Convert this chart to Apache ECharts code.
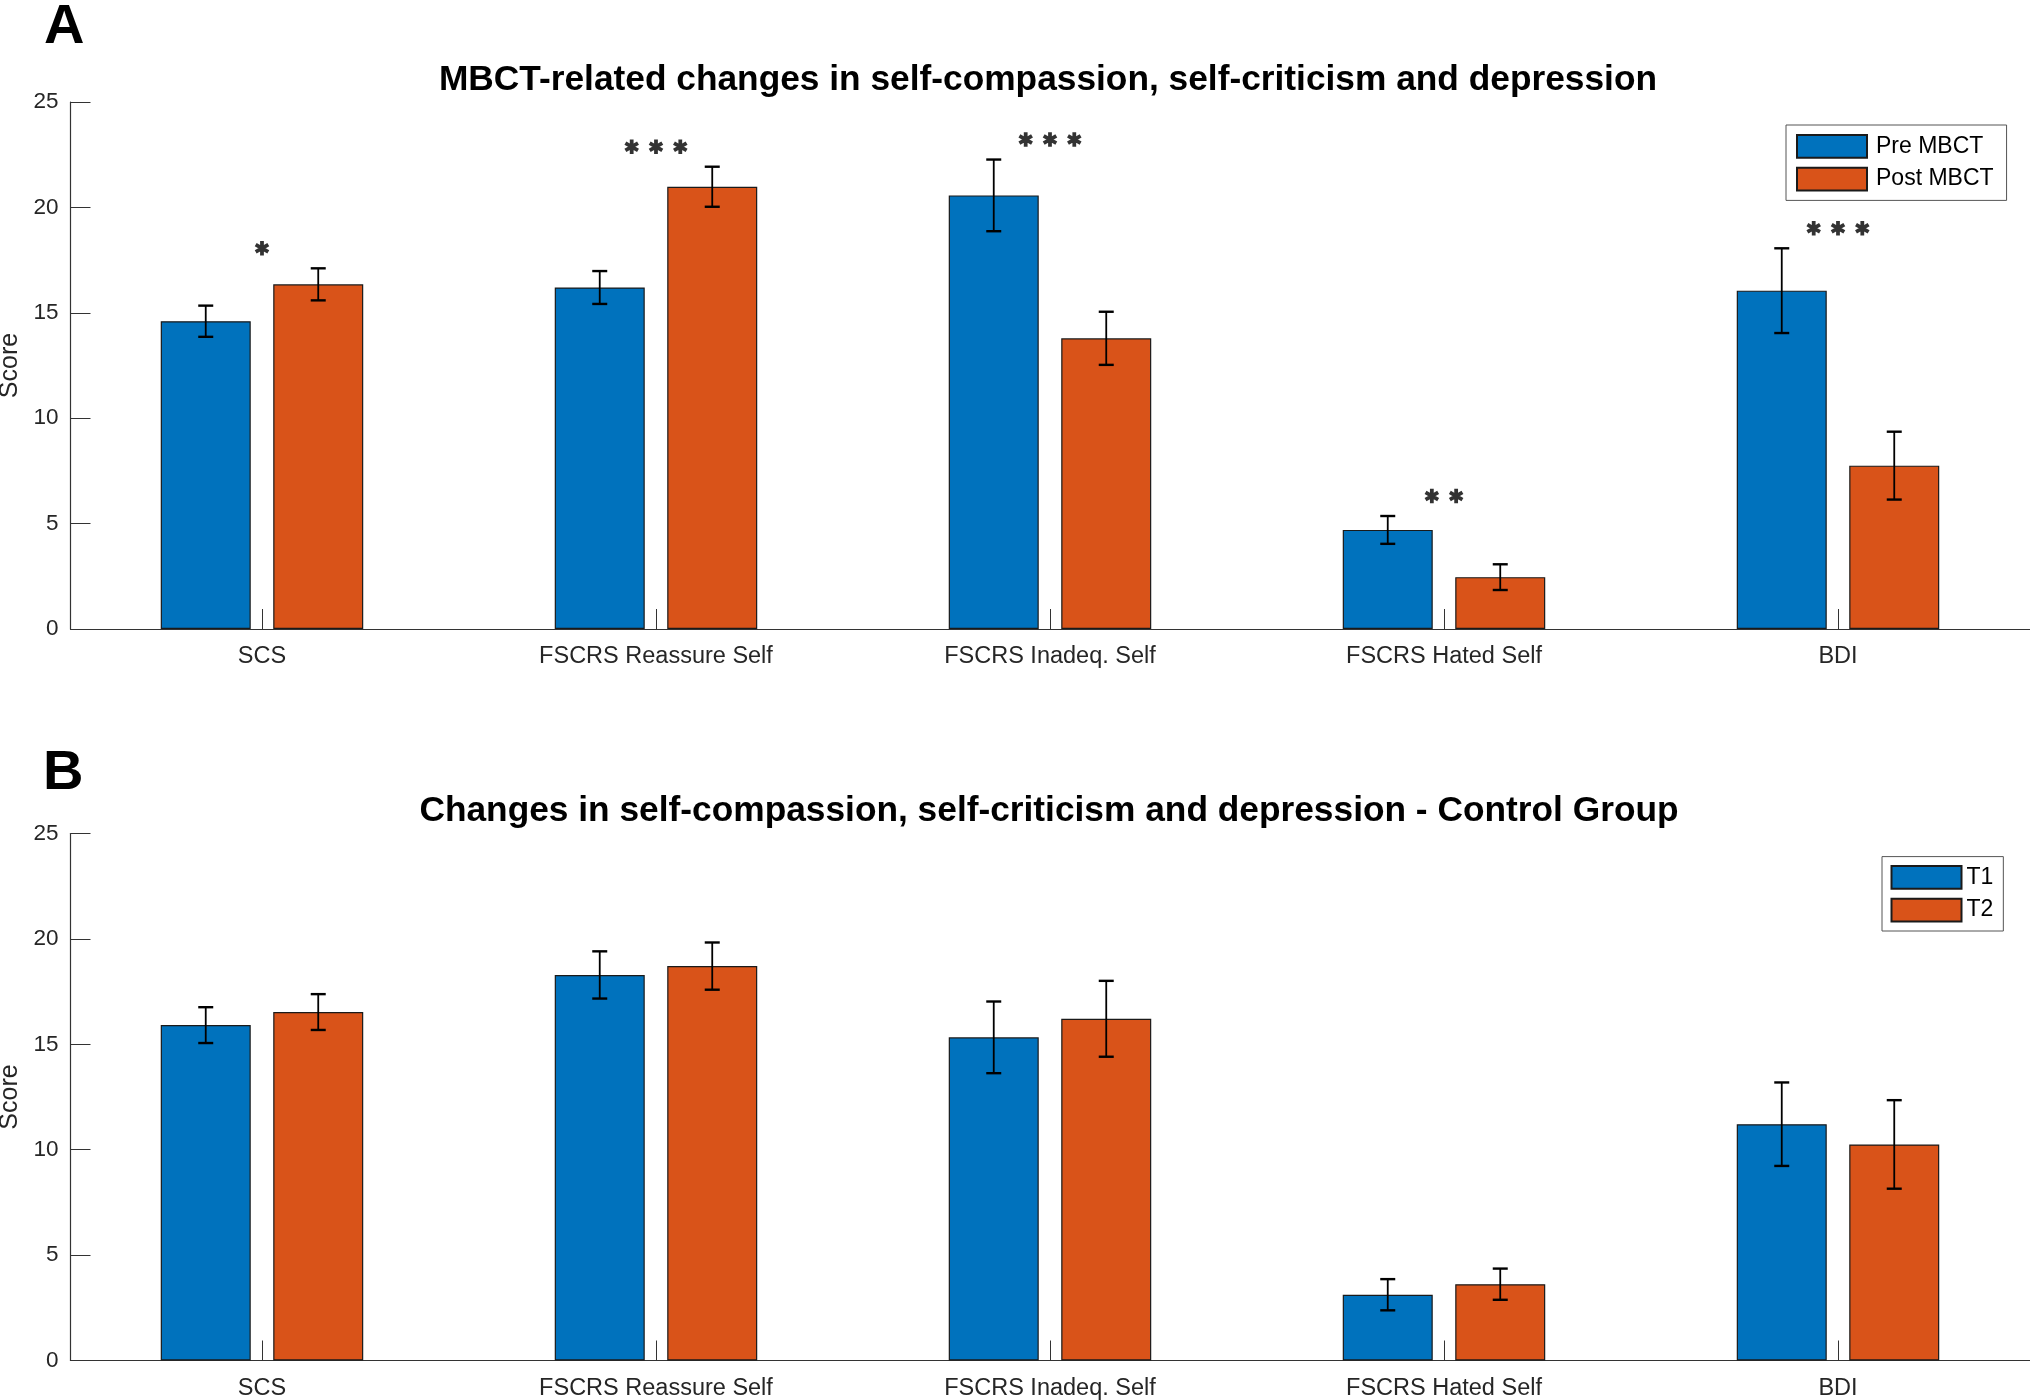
<!DOCTYPE html>
<html>
<head>
<meta charset="utf-8">
<script src="https://cdn.jsdelivr.net/npm/echarts@6/dist/echarts.min.js"></script>
<style>
html,body{margin:0;padding:0;background:#fff;}
#chart{width:2030px;height:1400px;}
</style>
</head>
<body>
<div id="chart"></div>
<script>
// ---------------- data ----------------
const categories = ['SCS', 'FSCRS Reassure Self', 'FSCRS Inadeq. Self', 'FSCRS Hated Self', 'BDI'];
const categoryPos = [1, 2, 3, 4, 5];
const yTicks = [0, 5, 10, 15, 20, 25];

// Panel A: MBCT group
const preMBCT     = [14.60, 16.20, 20.57, 4.70, 16.05];
const preMBCTErr  = [0.74, 0.78, 1.70, 0.66, 2.01];
const postMBCT    = [16.35, 20.98, 13.79, 2.46, 7.75];
const postMBCTErr = [0.76, 0.95, 1.26, 0.61, 1.61];
const significance = [1, 3, 3, 2, 3];   // number of asterisks per category

// Panel B: control group
const controlT1    = [15.91, 18.29, 15.33, 3.12, 11.21];
const controlT1Err = [0.85, 1.12, 1.70, 0.74, 1.98];
const controlT2    = [16.53, 18.71, 16.21, 3.62, 10.25];
const controlT2Err = [0.85, 1.12, 1.80, 0.74, 2.10];

const titleA = 'MBCT-related changes in self-compassion, self-criticism and depression';
const titleB = 'Changes in self-compassion, self-criticism and depression - Control Group';

// ---------------- style ----------------
const FONT = "'Liberation Sans', Arial, Helvetica, sans-serif";
const BLUE = '#0072BD';
const ORANGE = '#D95319';
const AXIS = '#333333';
const X_MIN = 0.514, X_MAX = 5.5;
const BAR_W = 90;
const BAR_GAP = 0.25;
const BAR_OFF = (BAR_W + BAR_W * BAR_GAP) / 2;
const STAR_GAP = 0.95;       // data units above the highest error bar
const STAR_SPACING = 24.3;   // px between asterisks
const STAR_PATH = 'path://M-13,-50L13,-50L13,50L-13,50Z' +
  'M-49.8,-13.74L-36.8,-36.26L49.8,13.74L36.8,36.26Z' +
  'M36.8,-36.26L49.8,-13.74L-36.8,36.26L-49.8,13.74Z';

const chart = echarts.init(document.getElementById('chart'), null, {renderer: 'canvas'});

function makeGrid(top) {
  return {left: 70.5, right: -5, top: top, height: 527, containLabel: false, outerBoundsMode: 'none'};
}
function makeXAxis(gi) {
  return {
    type: 'value', gridIndex: gi, min: X_MIN, max: X_MAX,
    axisLine: {show: true, onZero: false, lineStyle: {color: AXIS, width: 1.2}},
    axisTick: {show: true, inside: true, length: 20, customValues: categoryPos, lineStyle: {color: AXIS, width: 1}},
    axisLabel: {
      color: '#262626', fontSize: 23.5, fontFamily: FONT, margin: 16,
      customValues: categoryPos,
      formatter: function (v) { return categories[Math.round(v) - 1]; }
    },
    splitLine: {show: false}
  };
}
function makeYAxis(gi) {
  return {
    type: 'value', gridIndex: gi, min: yTicks[0], max: yTicks[yTicks.length - 1], interval: 5,
    name: 'Score', nameLocation: 'middle', nameGap: 44,
    nameTextStyle: {color: '#262626', fontSize: 25, fontFamily: FONT},
    axisLine: {show: true, lineStyle: {color: AXIS, width: 1.2}},
    axisTick: {show: true, inside: true, length: 20, lineStyle: {color: AXIS, width: 1}},
    axisLabel: {color: '#262626', fontSize: 22.5, fontFamily: FONT, margin: 12},
    splitLine: {show: false}
  };
}
function barSeries(name, values, color, gi) {
  return {
    type: 'bar', name: name, xAxisIndex: gi, yAxisIndex: gi,
    data: values.map((v, i) => [categoryPos[i], v]),
    barWidth: BAR_W, barGap: (BAR_GAP * 100) + '%',
    itemStyle: {color: color, borderColor: '#1a1a1a', borderWidth: 1.2},
    z: 2
  };
}
function errSeries(values, errs, sign, gi) {
  return {
    type: 'custom', xAxisIndex: gi, yAxisIndex: gi, z: 5, silent: true,
    data: values.map((v, i) => [categoryPos[i], v, errs[i]]),
    encode: {x: 0, y: 1},
    renderItem: function (params, api) {
      const i = api.value(0), m = api.value(1), e = api.value(2);
      const c = api.coord([i, m]);
      const hi = api.coord([i, m + e]);
      const lo = api.coord([i, m - e]);
      const x = c[0] + sign * BAR_OFF;
      const cap = 7.5;
      return {
        type: 'group',
        children: [
          {type: 'line', shape: {x1: x, y1: hi[1], x2: x, y2: lo[1]}, style: {stroke: '#000', lineWidth: 1.8}},
          {type: 'line', shape: {x1: x - cap, y1: hi[1], x2: x + cap, y2: hi[1]}, style: {stroke: '#000', lineWidth: 2.4}},
          {type: 'line', shape: {x1: x - cap, y1: lo[1], x2: x + cap, y2: lo[1]}, style: {stroke: '#000', lineWidth: 2.4}}
        ]
      };
    }
  };
}

// asterisk marks for panel A
const starData = [];
significance.forEach((n, i) => {
  const top = Math.max(preMBCT[i] + preMBCTErr[i], postMBCT[i] + postMBCTErr[i]) + STAR_GAP;
  for (let k = 0; k < n; k++) {
    starData.push({value: [categoryPos[i], top], symbolOffset: [(k - (n - 1) / 2) * STAR_SPACING, 0]});
  }
});

const legendCommon = {
  orient: 'vertical', itemWidth: 70, itemHeight: 22.7, itemGap: 8,
  backgroundColor: '#fff', borderColor: '#555', borderWidth: 1, borderRadius: 0,
  icon: 'rect', selectedMode: false,
  textStyle: {color: '#000', fontSize: 23, fontFamily: FONT}
};

const option = {
  animation: false,
  backgroundColor: '#fff',
  grid: [makeGrid(102), makeGrid(833.5)],
  xAxis: [makeXAxis(0), makeXAxis(1)],
  yAxis: [makeYAxis(0), makeYAxis(1)],
  legend: [
    Object.assign({}, legendCommon, {
      data: ['Pre MBCT', 'Post MBCT'], left: 1786, top: 125, padding: [9, 13, 9, 10],
      textStyle: Object.assign({}, legendCommon.textStyle, {padding: [0, 0, 0, 4]})
    }),
    Object.assign({}, legendCommon, {
      data: ['T1', 'T2'], left: 1882, top: 856.6, padding: [8.5, 10, 8.5, 8.5]
    })
  ],
  graphic: [
    {type: 'text', x: 44, y: 28, style: {text: 'A', fill: '#000', fontSize: 56, fontWeight: 'bold', fontFamily: FONT, align: 'left', verticalAlign: 'middle'}},
    {type: 'text', x: 43, y: 774, style: {text: 'B', fill: '#000', fontSize: 56, fontWeight: 'bold', fontFamily: FONT, align: 'left', verticalAlign: 'middle'}},
    {type: 'text', x: 1048, y: 80.4, style: {text: titleA, fill: '#000', fontSize: 35.3, fontWeight: 'bold', fontFamily: FONT, align: 'center', verticalAlign: 'middle'}},
    {type: 'text', x: 1049, y: 811, style: {text: titleB, fill: '#000', fontSize: 35.3, fontWeight: 'bold', fontFamily: FONT, align: 'center', verticalAlign: 'middle'}}
  ],
  series: [
    barSeries('Pre MBCT', preMBCT, BLUE, 0),
    barSeries('Post MBCT', postMBCT, ORANGE, 0),
    errSeries(preMBCT, preMBCTErr, -1, 0),
    errSeries(postMBCT, postMBCTErr, 1, 0),
    {
      type: 'scatter', xAxisIndex: 0, yAxisIndex: 0, data: starData,
      symbol: STAR_PATH, symbolSize: 14.5, itemStyle: {color: '#000'}, z: 6, silent: true
    },
    barSeries('T1', controlT1, BLUE, 1),
    barSeries('T2', controlT2, ORANGE, 1),
    errSeries(controlT1, controlT1Err, -1, 1),
    errSeries(controlT2, controlT2Err, 1, 1)
  ]
};
chart.setOption(option);
</script>
</body>
</html>
